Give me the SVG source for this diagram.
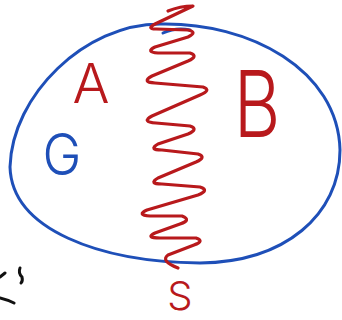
<svg xmlns="http://www.w3.org/2000/svg" width="342" height="320" viewBox="0 0 342 320">
<style>
.blue{fill:none;stroke:#1e4fb8;stroke-width:3;stroke-linecap:round;stroke-linejoin:round}
.red{fill:none;stroke:#b8191c;stroke-width:3.2;stroke-linecap:round;stroke-linejoin:round}
.ink{fill:none;stroke:#111;stroke-width:3;stroke-linecap:round}
.lab{font-family:Inter,"Liberation Sans",sans-serif;font-weight:300;text-anchor:middle}
</style>
<rect width="342" height="320" fill="#fff"/>
<g id="region">
<path class="blue" d="M160,24 C250,22 338,70 340,150 C340,215 285,262 200,263 C100,262 12,230 10,167 C12,95 85,24 160,24 Z"/>
<path class="blue" d="M163,33 Q176,27 190,30"/>
</g>
<g id="cut">
<path class="red" d="M168,11 Q180,6 193,6 L155,24 Q146,29 156,29 L188,30 Q198,32 188,37 L155,47 Q145,52 158,53 L190,53 Q199,56 188,61 L152,76 Q141,82 155,83 L203,87 Q212,90 200,95 L152,116 Q141,122 156,123 L190,126 Q199,129 188,134 L158,144 Q148,150 162,150 L198,154 Q207,157 196,162 L158,178 Q148,184 162,184 L200,187 Q210,190 198,195 L147,210 Q136,215 150,216 L182,216 Q192,220 180,224 L155,233 Q145,238 160,238 L196,238 Q205,241 194,245 L168,255 Q160,261 178,268"/>
</g>
<g id="labels">
<text class="lab" x="91" y="103" font-size="55" fill="#b8191c">A</text>
<text class="lab" transform="translate(257,137) scale(0.78,1)" font-size="92" fill="#b8191c">B</text>
<text class="lab" transform="translate(62,175) scale(0.9,1)" font-size="58" fill="#1e4fb8">G</text>
<text class="lab" x="180" y="310" font-size="40" fill="#b8191c">S</text>
</g>
<g id="marks">
<path class="ink" d="M0,277 L5,273"/>
<path class="ink" d="M20,268 Q18,273 22,277 Q23,281 21,283" stroke-width="3.5"/>
<path class="ink" d="M0,298 Q8,300 14,303"/>
</g>
</svg>
